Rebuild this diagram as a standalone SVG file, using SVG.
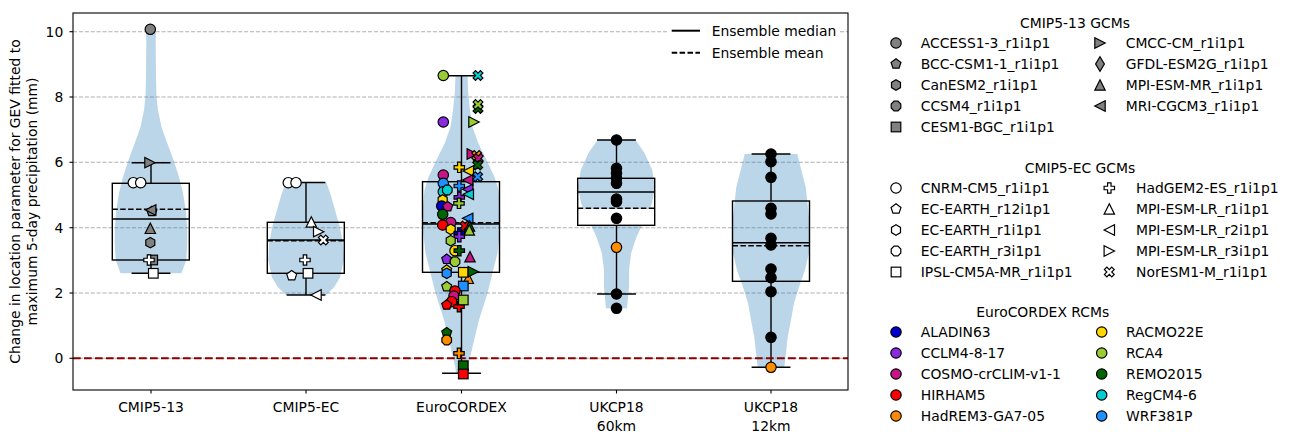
<svg xmlns="http://www.w3.org/2000/svg" width="1296" height="440" viewBox="0 0 1296 440">
<style>
text{font-family:"DejaVu Sans","Liberation Sans",sans-serif;font-size:13.9px;fill:#000}
.vio{fill:#1f77b4;fill-opacity:0.3;stroke:none}
.bx{fill:none;stroke:#000;stroke-width:1.4}
.mean{stroke-dasharray:5.5,2.4}
.grid{stroke:#b0b0b0;stroke-width:1.1;stroke-dasharray:4.1,1.8}
use{stroke:#000;stroke-width:1.2}
.g{fill:#808080}.w{fill:#fff}.k{fill:#000}
.al{fill:#0000cd}.cc{fill:#8a2be2}.co{fill:#c71585}.hi{fill:#ff0000}.hr{fill:#ff8c00}
.rm{fill:#ffd700}.r4{fill:#9acd32}.re{fill:#006400}.rg{fill:#00ced1}.wr{fill:#1e90ff}
.mid{text-anchor:middle}.end{text-anchor:end}
</style>
<defs>
<circle id="m-o" r="5.2"/>
<polygon id="m-p" points="0,-5.2 4.95,-1.61 3.06,4.21 -3.06,4.21 -4.95,-1.61"/>
<polygon id="m-h" points="0,-5.2 4.5,-2.6 4.5,2.6 0,5.2 -4.5,2.6 -4.5,-2.6"/>
<polygon id="m-8" points="4.8,1.99 1.99,4.8 -1.99,4.8 -4.8,1.99 -4.8,-1.99 -1.99,-4.8 1.99,-4.8 4.8,-1.99"/>
<rect id="m-s" x="-4.8" y="-4.8" width="9.6" height="9.6"/>
<polygon id="m-u" points="0,-5.2 5.2,5.2 -5.2,5.2"/>
<polygon id="m-l" points="-5.2,0 5.2,-5.2 5.2,5.2"/>
<polygon id="m-r" points="5.2,0 -5.2,-5.2 -5.2,5.2"/>
<polygon id="m-d" points="0,-7.3 4.4,0 0,7.3 -4.4,0"/>
<path id="m-P" d="M-1.73,-5.2L1.73,-5.2L1.73,-1.73L5.2,-1.73L5.2,1.73L1.73,1.73L1.73,5.2L-1.73,5.2L-1.73,1.73L-5.2,1.73L-5.2,-1.73L-1.73,-1.73Z"/>
<path id="m-X" d="M2.45,-4.9L4.9,-2.45L2.45,0L4.9,2.45L2.45,4.9L0,2.45L-2.45,4.9L-4.9,2.45L-2.45,0L-4.9,-2.45L-2.45,-4.9L0,-2.45Z"/>
</defs>
<rect width="1296" height="440" fill="#fff"/>

<g id="grid">
<line class="grid" x1="73" y1="31.7" x2="848" y2="31.7"/>
<line class="grid" x1="73" y1="97" x2="848" y2="97"/>
<line class="grid" x1="73" y1="162.3" x2="848" y2="162.3"/>
<line class="grid" x1="73" y1="227.7" x2="848" y2="227.7"/>
<line class="grid" x1="73" y1="293" x2="848" y2="293"/>
<line class="grid" x1="73" y1="358.3" x2="848" y2="358.3"/>
</g>

<g id="violins">
<polygon class="vio" points="146,29.3 146.3,43 146,77 145.5,97 144,110 140.5,127 134.8,143 128.5,160 123,177 119,193 116.3,210 114.8,227 114.7,243 115.7,260 120.5,273.3 181.5,273.3 186.3,260 187.3,243 187.2,227 185.7,210 183,193 179,177 173.5,160 167.2,143 161.5,127 158,110 156.5,97 156,77 155.7,43 156,29.3"/>
<polygon class="vio" points="285.5,182.7 281,196 277,210 272.2,227 269.2,243 268.3,260 271.8,277 277.7,287 286,295 326,295 334.3,287 340.2,277 343.7,260 342.8,243 339.8,227 335,210 331,196 326.5,182.7"/>
<polygon class="vio" points="455.5,75 454.8,93 453,110 450.5,127 444.8,143 436.5,160 428.5,177 424.5,190 423,205 422.7,220 423.5,235 425.5,253 430.5,273 435.5,293 444,320 450.5,347 455.2,367 456,373.3 467,373.3 467.8,367 472.5,347 479,320 487.5,293 492.5,273 497.5,253 499.5,235 500.3,220 500,205 498.5,190 494.5,177 486.5,160 478.2,143 472.5,127 470,110 468.2,93 467.5,75"/>
<polygon class="vio" points="597.5,140 588.5,153 580.8,170 578,187 581,203 588.5,220 596.5,237 601.8,253 604,270 604,287 606,308.3 627,308.3 629,287 629,270 631.2,253 636.5,237 644.5,220 652,203 655,187 652.2,170 644.5,153 635.5,140"/>
<polygon class="vio" points="744.7,154 740.7,170 736.3,187 732.7,220 733,253 737,270 743,287 748,303 751,320 754.3,337 756,353 757.7,367.3 784.3,367.3 786,353 787.7,337 791,320 794,303 799,287 805,270 809,253 809.3,220 805.7,187 801.3,170 797.3,154"/>
<rect x="578.7" y="209" width="76" height="16" fill="#fff"/>
</g>

<g id="boxes">
<g id="box-cmip5-13">
<rect class="bx" x="112.3" y="183.3" width="77" height="76.7"/>
<line class="bx" x1="112.3" y1="219" x2="189.3" y2="219"/>
<line class="bx mean" x1="112.3" y1="209.3" x2="189.3" y2="209.3"/>
<line class="bx" x1="151" y1="183.3" x2="151" y2="162.7"/>
<line class="bx" x1="151" y1="260" x2="151" y2="273.3"/>
<line class="bx" x1="131.6" y1="162.7" x2="170.4" y2="162.7"/>
<line class="bx" x1="131.6" y1="273.3" x2="170.4" y2="273.3"/>
</g>
<g id="box-cmip5-ec">
<rect class="bx" x="267.3" y="222.3" width="77" height="51"/>
<line class="bx" x1="267.3" y1="240" x2="344.3" y2="240"/>
<line class="bx mean" x1="267.3" y1="240.8" x2="344.3" y2="240.8"/>
<line class="bx" x1="306" y1="222.3" x2="306" y2="182.5"/>
<line class="bx" x1="306" y1="273.3" x2="306" y2="295"/>
<line class="bx" x1="286.6" y1="182.5" x2="325.4" y2="182.5"/>
<line class="bx" x1="286.6" y1="295" x2="325.4" y2="295"/>
</g>
<g id="box-eurocordex">
<rect class="bx" x="422.5" y="181.7" width="77" height="90.6"/>
<line class="bx" x1="422.5" y1="224" x2="499.5" y2="224"/>
<line class="bx mean" x1="422.5" y1="222.8" x2="499.5" y2="222.8"/>
<line class="bx" x1="461.5" y1="181.7" x2="461.5" y2="75.7"/>
<line class="bx" x1="461.5" y1="272.3" x2="461.5" y2="373.3"/>
<line class="bx" x1="442.1" y1="75.7" x2="480.9" y2="75.7"/>
<line class="bx" x1="442.1" y1="373.3" x2="480.9" y2="373.3"/>
</g>
<g id="box-ukcp18-60">
<rect class="bx" x="577.7" y="178.3" width="77" height="47"/>
<line class="bx" x1="577.7" y1="192" x2="654.7" y2="192"/>
<line class="bx mean" x1="577.7" y1="208.3" x2="654.7" y2="208.3"/>
<line class="bx" x1="616.5" y1="178.3" x2="616.5" y2="140"/>
<line class="bx" x1="616.5" y1="225.3" x2="616.5" y2="294"/>
<line class="bx" x1="597.1" y1="140" x2="635.9" y2="140"/>
<line class="bx" x1="597.1" y1="294" x2="635.9" y2="294"/>
</g>
<g id="box-ukcp18-12">
<rect class="bx" x="732.5" y="201" width="77" height="80.3"/>
<line class="bx" x1="732.5" y1="242.7" x2="809.5" y2="242.7"/>
<line class="bx mean" x1="732.5" y1="245.7" x2="809.5" y2="245.7"/>
<line class="bx" x1="771" y1="201" x2="771" y2="154"/>
<line class="bx" x1="771" y1="281.3" x2="771" y2="367.3"/>
<line class="bx" x1="751.6" y1="154" x2="790.4" y2="154"/>
<line class="bx" x1="751.6" y1="367.3" x2="790.4" y2="367.3"/>
</g>
</g>

<line id="zero-line" x1="73" y1="358.3" x2="848" y2="358.3" stroke="#8b0000" stroke-width="2" stroke-dasharray="7.7,3.3"/>

<g id="points-cmip5-13">
<use href="#m-o" x="150.3" y="29.3" class="g"/>
<use href="#m-r" x="150" y="162.7" class="g"/>
<use href="#m-o" x="133.3" y="182.7" class="w"/>
<use href="#m-o" x="140.7" y="182.7" class="w"/>
<use href="#m-p" x="151.8" y="211.5" class="g"/>
<use href="#m-l" x="150.7" y="210" class="g"/>
<use href="#m-u" x="150.3" y="228.3" class="g"/>
<use href="#m-h" x="150.3" y="242.7" class="g"/>
<use href="#m-s" x="152.7" y="260" class="g"/>
<use href="#m-P" x="149" y="260" class="w"/>
<use href="#m-s" x="153.3" y="273.3" class="w"/>
</g>

<g id="points-cmip5-ec">
<use href="#m-o" x="288.3" y="182.7" class="w"/>
<use href="#m-o" x="296" y="182.7" class="w"/>
<use href="#m-u" x="311.3" y="222" class="w"/>
<use href="#m-r" x="318.7" y="231.7" class="w"/>
<use href="#m-X" x="323.3" y="240" class="w"/>
<use href="#m-P" x="305" y="260" class="w"/>
<use href="#m-p" x="291.7" y="275.7" class="w"/>
<use href="#m-s" x="308" y="273.3" class="w"/>
<use href="#m-l" x="316" y="295" class="w"/>
</g>

<g id="points-eurocordex">
<use href="#m-o" x="443.3" y="75.5" class="r4"/>
<use href="#m-X" x="478" y="75.5" class="rg"/>
<use href="#m-X" x="478" y="108.5" class="re"/>
<use href="#m-X" x="478" y="104.5" class="r4"/>
<use href="#m-o" x="443.3" y="122" class="cc"/>
<use href="#m-r" x="474" y="122" class="r4"/>
<use href="#m-r" x="472.3" y="154" class="co"/>
<use href="#m-X" x="476.7" y="155.5" class="hr"/>
<use href="#m-X" x="478.3" y="158.5" class="co"/>
<use href="#m-X" x="477.7" y="165" class="re"/>
<use href="#m-P" x="459.3" y="167.3" class="rm"/>
<use href="#m-l" x="468.3" y="171" class="rm"/>
<use href="#m-X" x="477.7" y="176.7" class="wr"/>
<use href="#m-o" x="443.3" y="175" class="co"/>
<use href="#m-l" x="467.7" y="180" class="co"/>
<use href="#m-o" x="443.3" y="183.3" class="wr"/>
<use href="#m-P" x="459.3" y="186" class="wr"/>
<use href="#m-o" x="443.3" y="191.7" class="rg"/>
<use href="#m-8" x="447.3" y="190" class="rg"/>
<use href="#m-l" x="467.7" y="189.3" class="cc"/>
<use href="#m-l" x="468.3" y="194.3" class="rg"/>
<use href="#m-P" x="459.3" y="197.3" class="cc"/>
<use href="#m-h" x="442.7" y="200" class="rm"/>
<use href="#m-o" x="441.7" y="206" class="al"/>
<use href="#m-p" x="447.7" y="206.7" class="co"/>
<use href="#m-P" x="459" y="203.3" class="r4"/>
<use href="#m-o" x="442.7" y="214.3" class="re"/>
<use href="#m-l" x="467.7" y="218.3" class="wr"/>
<use href="#m-o" x="450.7" y="222.5" class="co"/>
<use href="#m-o" x="442.7" y="225" class="hi"/>
<use href="#m-X" x="465" y="226" class="hi"/>
<use href="#m-u" x="469.5" y="226" class="re"/>
<use href="#m-u" x="469.3" y="230" class="r4"/>
<use href="#m-h" x="450.7" y="229.3" class="rm"/>
<use href="#m-P" x="459.3" y="233" class="al"/>
<use href="#m-P" x="459.3" y="236.7" class="cc"/>
<use href="#m-h" x="450.7" y="240.7" class="r4"/>
<use href="#m-o" x="455" y="250.7" class="rm"/>
<use href="#m-P" x="459.3" y="250.7" class="re"/>
<use href="#m-u" x="470" y="256.7" class="co"/>
<use href="#m-p" x="446.7" y="259.3" class="cc"/>
<use href="#m-8" x="455" y="261.7" class="r4"/>
<use href="#m-p" x="446.7" y="270" class="rm"/>
<use href="#m-h" x="446.7" y="273.3" class="wr"/>
<use href="#m-u" x="468.3" y="278.3" class="hr"/>
<use href="#m-s" x="463.3" y="272.3" class="rm"/>
<use href="#m-r" x="473.3" y="271.7" class="re"/>
<use href="#m-s" x="463.3" y="286" class="wr"/>
<use href="#m-p" x="446.7" y="286.7" class="r4"/>
<use href="#m-o" x="455" y="291" class="hi"/>
<use href="#m-o" x="454" y="296" class="co"/>
<use href="#m-o" x="451.7" y="301.7" class="hi"/>
<use href="#m-p" x="446.7" y="305" class="hi"/>
<use href="#m-P" x="459" y="306.7" class="hi"/>
<use href="#m-s" x="463.3" y="300" class="r4"/>
<use href="#m-p" x="446.7" y="332.7" class="re"/>
<use href="#m-8" x="446.7" y="340" class="hr"/>
<use href="#m-P" x="459" y="353.3" class="hr"/>
<use href="#m-s" x="463.3" y="365.7" class="re"/>
<use href="#m-s" x="463.3" y="374" class="hi"/>
</g>

<g id="points-ukcp18-60km">
<use href="#m-o" x="616.5" y="140" class="k"/>
<use href="#m-o" x="616.5" y="168.3" class="k"/>
<use href="#m-o" x="616.5" y="173.3" class="k"/>
<use href="#m-o" x="616.5" y="178.3" class="k"/>
<use href="#m-o" x="616.5" y="183.3" class="k"/>
<use href="#m-o" x="616.5" y="199" class="k"/>
<use href="#m-o" x="616.5" y="201.7" class="k"/>
<use href="#m-o" x="616.5" y="218.3" class="k"/>
<use href="#m-o" x="616.5" y="247.3" class="hr"/>
<use href="#m-o" x="616.5" y="294" class="k"/>
<use href="#m-o" x="616.5" y="308.3" class="k"/>
</g>

<g id="points-ukcp18-12km">
<use href="#m-o" x="771" y="154" class="k"/>
<use href="#m-o" x="771" y="161.7" class="k"/>
<use href="#m-o" x="771" y="177.3" class="k"/>
<use href="#m-o" x="771" y="208.3" class="k"/>
<use href="#m-o" x="771" y="214" class="k"/>
<use href="#m-o" x="771" y="238.3" class="k"/>
<use href="#m-o" x="771" y="245" class="k"/>
<use href="#m-o" x="771" y="269" class="k"/>
<use href="#m-o" x="771" y="277.7" class="k"/>
<use href="#m-o" x="771" y="291.7" class="k"/>
<use href="#m-o" x="771" y="337.3" class="k"/>
<use href="#m-o" x="771" y="367.3" class="hr"/>
</g>

<g id="axes">
<rect x="73" y="13" width="775" height="377" fill="none" stroke="#000" stroke-width="1.1"/>
<g stroke="#000" stroke-width="1.1">
<line x1="69.5" y1="31.7" x2="73" y2="31.7"/>
<line x1="69.5" y1="97" x2="73" y2="97"/>
<line x1="69.5" y1="162.3" x2="73" y2="162.3"/>
<line x1="69.5" y1="227.7" x2="73" y2="227.7"/>
<line x1="69.5" y1="293" x2="73" y2="293"/>
<line x1="69.5" y1="358.3" x2="73" y2="358.3"/>
<line x1="151" y1="390" x2="151" y2="393.5"/>
<line x1="306" y1="390" x2="306" y2="393.5"/>
<line x1="461.5" y1="390" x2="461.5" y2="393.5"/>
<line x1="616.5" y1="390" x2="616.5" y2="393.5"/>
<line x1="771" y1="390" x2="771" y2="393.5"/>
</g>
<text class="end" x="63.3" y="36.7">10</text>
<text class="end" x="63.3" y="102">8</text>
<text class="end" x="63.3" y="167.3">6</text>
<text class="end" x="63.3" y="232.7">4</text>
<text class="end" x="63.3" y="298">2</text>
<text class="end" x="63.3" y="363.3">0</text>
<text class="mid" x="151" y="412">CMIP5-13</text>
<text class="mid" x="306" y="412">CMIP5-EC</text>
<text class="mid" x="461.5" y="412">EuroCORDEX</text>
<text class="mid" x="616.5" y="412">UKCP18</text>
<text class="mid" x="616.5" y="431">60km</text>
<text class="mid" x="771" y="412">UKCP18</text>
<text class="mid" x="771" y="431">12km</text>
<text class="mid" transform="translate(20,201.5) rotate(-90)">Change in location parameter for GEV fitted to</text>
<text class="mid" transform="translate(37.3,201.5) rotate(-90)">maximum 5-day precipitation (mm)</text>
</g>

<g id="legend-ensemble">
<rect x="667" y="17" width="172" height="48" fill="#fff"/>
<line x1="671.7" y1="30.7" x2="700" y2="30.7" stroke="#000" stroke-width="2"/>
<text x="711.7" y="35.5">Ensemble median</text>
<line x1="671.7" y1="52.7" x2="700" y2="52.7" stroke="#000" stroke-width="2" stroke-dasharray="5.5,2.4"/>
<text x="711.7" y="57.5">Ensemble mean</text>
</g>

<g id="legend-cmip5-13">
<text class="mid" x="1075" y="27.5">CMIP5-13 GCMs</text>
<use href="#m-o" x="896" y="43" class="g"/><text x="920.7" y="47.8">ACCESS1-3_r1i1p1</text>
<use href="#m-p" x="896" y="64" class="g"/><text x="920.7" y="68.8">BCC-CSM1-1_r1i1p1</text>
<use href="#m-h" x="896" y="85" class="g"/><text x="920.7" y="89.8">CanESM2_r1i1p1</text>
<use href="#m-8" x="896" y="106" class="g"/><text x="920.7" y="110.8">CCSM4_r1i1p1</text>
<use href="#m-s" x="896" y="127" class="g"/><text x="920.7" y="131.8">CESM1-BGC_r1i1p1</text>
<use href="#m-r" x="1100" y="43" class="g"/><text x="1125.7" y="47.8">CMCC-CM_r1i1p1</text>
<use href="#m-d" x="1100" y="64" class="g"/><text x="1125.7" y="68.8">GFDL-ESM2G_r1i1p1</text>
<use href="#m-u" x="1100" y="85" class="g"/><text x="1125.7" y="89.8">MPI-ESM-MR_r1i1p1</text>
<use href="#m-l" x="1100" y="106" class="g"/><text x="1125.7" y="110.8">MRI-CGCM3_r1i1p1</text>
</g>

<g id="legend-cmip5-ec">
<text class="mid" x="1080" y="172.5">CMIP5-EC GCMs</text>
<use href="#m-o" x="896" y="188" class="w"/><text x="920.7" y="192.8">CNRM-CM5_r1i1p1</text>
<use href="#m-p" x="896" y="209" class="w"/><text x="920.7" y="213.8">EC-EARTH_r12i1p1</text>
<use href="#m-h" x="896" y="230" class="w"/><text x="920.7" y="234.8">EC-EARTH_r1i1p1</text>
<use href="#m-8" x="896" y="251" class="w"/><text x="920.7" y="255.8">EC-EARTH_r3i1p1</text>
<use href="#m-s" x="896" y="272" class="w"/><text x="920.7" y="276.8">IPSL-CM5A-MR_r1i1p1</text>
<use href="#m-P" x="1109.3" y="188" class="w"/><text x="1136" y="192.8">HadGEM2-ES_r1i1p1</text>
<use href="#m-u" x="1109.3" y="209" class="w"/><text x="1136" y="213.8">MPI-ESM-LR_r1i1p1</text>
<use href="#m-l" x="1109.3" y="230" class="w"/><text x="1136" y="234.8">MPI-ESM-LR_r2i1p1</text>
<use href="#m-r" x="1109.3" y="251" class="w"/><text x="1136" y="255.8">MPI-ESM-LR_r3i1p1</text>
<use href="#m-X" x="1109.3" y="272" class="w"/><text x="1136" y="276.8">NorESM1-M_r1i1p1</text>
</g>

<g id="legend-eurocordex">
<text class="mid" x="1042.7" y="317">EuroCORDEX RCMs</text>
<use href="#m-o" x="896" y="332" class="al"/><text x="920.7" y="336.8">ALADIN63</text>
<use href="#m-o" x="896" y="353" class="cc"/><text x="920.7" y="357.8">CCLM4-8-17</text>
<use href="#m-o" x="896" y="374" class="co"/><text x="920.7" y="378.8">COSMO-crCLIM-v1-1</text>
<use href="#m-o" x="896" y="395" class="hi"/><text x="920.7" y="399.8">HIRHAM5</text>
<use href="#m-o" x="896" y="416" class="hr"/><text x="920.7" y="420.8">HadREM3-GA7-05</text>
<use href="#m-o" x="1101.7" y="332" class="rm"/><text x="1126" y="336.8">RACMO22E</text>
<use href="#m-o" x="1101.7" y="353" class="r4"/><text x="1126" y="357.8">RCA4</text>
<use href="#m-o" x="1101.7" y="374" class="re"/><text x="1126" y="378.8">REMO2015</text>
<use href="#m-o" x="1101.7" y="395" class="rg"/><text x="1126" y="399.8">RegCM4-6</text>
<use href="#m-o" x="1101.7" y="416" class="wr"/><text x="1126" y="420.8">WRF381P</text>
</g>
</svg>
